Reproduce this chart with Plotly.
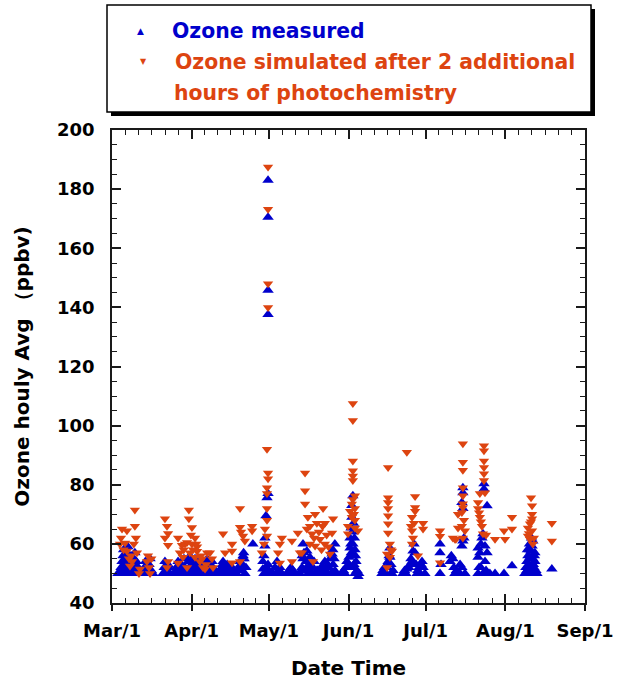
import pandas as pd
import plotly.graph_objects as go

# ---------------- data (days after Mar 1, ppbv) ----------------
measured_day = [
    2.3, 3.0, 3.5, 3.9, 4.3, 4.5, 5.0, 5.1, 5.5, 5.8, 6.2, 6.5, 7.0, 7.0, 7.4, 7.8, 8.2, 8.5, 8.9, 9.3, 9.7, 10.1, 10.5, 10.9,
    3.3, 4.0, 4.8, 6.0, 6.8, 7.6, 8.0, 9.0, 9.5,
    12.1, 12.6, 13.0, 13.6, 14.0, 14.4, 14.8, 15.3, 15.9,
    19.8, 20.3, 20.6, 21.0, 21.4, 21.8, 22.2, 22.6,
    24.5, 25.0, 25.7, 26.0, 26.4, 27.0, 27.6, 28.0, 28.4, 29.2, 29.6, 30.3, 30.7, 31.1, 31.5, 32.3, 32.7, 33.1, 33.5, 34.2,
    34.6, 35.4, 35.8, 36.2, 37.0, 37.4, 38.1, 38.9, 39.3, 40.1,
    24.8, 25.4, 26.7, 28.8, 30.0, 30.5, 31.8, 32.0, 33.8, 35.0, 36.6, 37.8, 38.5, 39.7,
    42.0, 42.6, 43.2, 43.6, 44.0, 44.8, 45.5, 45.9, 46.7, 47.5, 48.5, 49.4, 49.8, 50.2, 50.6, 51.0, 51.4, 51.7, 52.1, 54.8,
    42.3, 43.0, 44.4, 46.3, 49.0, 50.0, 50.8, 51.2,
    60.7, 60.7, 60.7, 60.7, 60.7, 60.3, 59.9, 59.5, 59.5, 59.1, 58.7, 58.7, 59.1, 59.9, 60.3, 60.7, 61.1, 61.5,
    62.6, 63.4, 64.2, 64.6, 65.0, 65.3, 66.1,
    68.1, 68.8, 69.6, 70.0, 70.4, 71.2,
    73.1, 73.9, 74.3, 74.3, 74.7, 75.1, 75.8, 76.2, 76.6, 77.0, 77.4, 77.8, 78.2, 78.6, 79.0, 79.7, 80.5, 81.3, 81.7, 82.1,
    82.8, 83.2, 83.6, 84.4, 84.8, 85.2, 85.6, 86.0, 86.7, 86.7, 87.1,
    73.5, 74.0, 75.5, 76.0, 76.8, 80.0, 83.9, 85.9, 86.4,
    89.5, 90.0, 90.6, 91.0, 91.4, 91.8, 92.2, 92.6, 92.6, 93.0, 93.3, 93.3, 93.7, 93.7, 93.7, 94.1, 94.5, 94.5, 94.9, 95.3, 95.7, 96.0,
    92.0, 92.9, 93.1, 93.5, 93.9, 94.3, 94.7, 93.5, 95.0,
    105.0, 105.4, 106.0, 106.6, 107.0, 107.4, 107.8, 108.1, 108.1, 108.5, 108.9, 109.3,
    113.2, 113.8, 114.3, 114.7, 115.5, 115.9, 116.3, 116.7, 117.1, 117.5, 117.9, 118.3, 118.7, 119.0, 119.4, 119.8, 120.2, 120.6, 121.0, 121.7,
    127.6, 127.6, 127.6, 128.0, 131.5, 132.0, 132.6, 133.0, 133.4, 134.0, 134.6, 135.4, 135.4, 136.1, 137.3,
    136.5, 136.5, 136.1, 136.5, 136.5, 136.1, 136.9,
    142.4, 142.4, 142.8, 142.4, 143.1, 143.5, 143.9, 144.3, 144.7, 144.7, 145.1, 145.1, 145.5, 145.9, 145.9, 146.3, 144.3, 143.5, 147.0,
    149.0, 152.5, 155.6,
    160.6, 161.0, 161.4, 161.4, 161.8, 161.8, 162.2, 162.6, 162.6, 162.6, 163.0, 163.0, 163.4, 163.4, 163.7, 163.7, 164.1, 164.1, 164.5, 164.5, 164.9, 165.3,
    161.6, 162.4, 163.2, 164.3, 162.0, 163.9,
    171.1,
]
measured_ppbv = [
    50, 50, 52, 54, 56, 58, 50, 53, 55, 57, 59, 51, 50, 54, 56, 52, 50, 55, 57, 53, 50, 52, 50, 51,
    51, 50, 52, 53, 55, 50, 53, 51, 54,
    50, 52, 54, 51, 50, 53, 55, 51, 50,
    50, 52, 54, 51, 50, 53, 52, 50,
    50, 52, 54, 50, 51, 53, 50, 55, 52, 50, 54, 56, 51, 53, 50, 55, 52, 50, 54, 51,
    50, 53, 50, 52, 55, 50, 51, 54, 52, 50,
    51, 50, 52, 51, 52, 54, 51, 53, 52, 51, 54, 53, 50, 51,
    50, 52, 54, 51, 50, 53, 50, 51, 52, 50, 50, 52, 54, 51, 53, 56, 55, 50, 52, 60,
    51, 53, 52, 50, 51, 53, 55, 57,
    183, 170.5, 145.8, 137.6, 77, 75.6, 69.5, 59.3, 62, 56, 54, 51.5, 50, 52, 50, 53, 51, 50,
    50, 52, 54, 51, 50, 52, 50,
    50, 51, 52, 50, 51, 50,
    50, 52, 60, 55, 57, 51, 57.6, 50, 53, 55.5, 52, 50, 52, 54, 50, 51, 50, 52, 50, 52,
    54, 51, 50, 52, 55, 50, 56.6, 53, 60, 51, 50,
    51, 56, 54, 52, 51, 51, 53, 58, 55,
    50, 51, 50, 52, 54, 52, 55.5, 58.6, 62, 65.4, 69, 73, 76.3, 60, 56, 53, 50, 58, 54, 51, 49, 50,
    53, 60, 57, 64, 67, 62, 56, 52, 50,
    50, 51, 52, 50, 52, 54, 56, 58.6, 55.5, 53, 50, 51,
    50, 51, 50, 51.5, 52, 53, 55, 54, 57.6, 60, 57, 53, 50, 51, 52, 50, 53, 54, 52, 50,
    50, 57, 60, 53, 54, 56, 55, 52, 50, 51, 50, 53, 50, 52, 50,
    79, 77.3, 74, 72, 61, 59.3, 62,
    58.6, 55.5, 52, 50, 57, 60, 62, 63.4, 80.3, 78.6, 59.3, 54, 51, 72.9, 57, 50, 50, 52, 50,
    50, 50, 52.6,
    50, 52, 54, 51, 56, 50, 53, 55.5, 58, 51, 57.6, 50, 53, 59.3, 61, 55, 52, 50, 57, 54, 51, 50,
    58, 60, 62, 56, 52, 53,
    51.5,
]

simulated_day = [
    3.1, 3.5, 3.9, 4.5, 5.1, 5.8, 5.8, 6.6, 7.0, 7.4, 7.8, 8.5, 8.9, 8.9, 9.3, 9.7, 10.5, 10.9,
    13.6, 14.0, 14.4, 14.8, 15.3,
    20.6, 21.4, 21.8, 20.6, 21.8, 21.8, 21.4,
    25.7, 26.4, 27.2, 27.6, 25.7, 28.4, 29.2, 29.2, 29.9, 29.9, 30.3, 31.1, 31.1, 31.5, 32.3, 32.3, 33.1, 33.1, 34.2, 34.6,
    35.4, 36.2, 36.6, 37.0, 38.1, 38.9, 39.3, 30.7, 27.9, 32.7, 35.0,
    43.2, 44.0, 46.7, 46.7, 46.7, 49.8, 49.8, 50.2, 51.0, 51.7, 49.8, 54.5, 54.5,
    60.7, 60.7, 60.7, 60.7, 60.3, 60.7, 60.7, 60.3, 60.3, 60.3, 60.3, 59.5, 60.3, 58.3, 59.1,
    66.1, 65.3, 64.6, 65.3,
    70.0, 70.0, 73.1, 72.3,
    75.1, 75.1, 75.1, 76.2, 77.0, 75.8, 77.8, 73.9, 79.0, 79.7, 82.1, 82.8, 79.0, 80.9, 86.0, 85.6, 84.8, 82.8, 78.2, 80.5,
    83.5, 81.5, 77.0, 78.6, 81.9, 84.2,
    93.7, 93.7, 93.7, 93.7, 93.7, 93.7, 94.5, 93.3, 94.5, 93.3, 94.5, 91.8, 95.7, 91.8, 94.5, 93.7, 94.1, 92.6,
    107.4, 107.4, 107.4, 107.4, 107.4, 107.4, 107.4, 108.1, 108.9, 107.0, 107.0, 108.1, 108.5,
    114.7, 117.9, 117.9, 117.9, 116.7, 116.7, 117.1, 116.7, 119.0, 121.0, 121.0, 117.5, 116.3,
    127.6, 127.6, 127.6, 133.4, 133.8, 134.6, 136.1, 137.3, 134.6, 132.6,
    136.5, 136.5, 136.5, 136.5, 136.5, 136.5, 136.5, 136.1, 136.9, 136.5,
    144.7, 144.7, 144.7, 144.7, 144.7, 144.7, 145.1, 143.1, 142.4, 142.4, 143.1, 143.9, 144.3, 145.5, 143.5, 142.8,
    149.0, 152.5, 152.9, 155.6, 155.6,
    163.0, 163.4, 163.4, 163.4, 162.6, 161.8, 163.4, 161.8, 162.6, 163.7, 162.2, 163.0, 164.1,
    171.1, 171.1,
]
simulated_ppbv = [
    60, 62, 65, 58, 60.3, 64.4, 57.6, 55, 52.5, 56, 54, 60, 66, 71.5, 62, 57, 50, 51.5,
    54, 56, 52, 50, 55,
    68.5, 66, 63.5, 62, 59.5, 54, 52,
    62, 57, 59.5, 55.5, 53.5, 60, 60.5, 52, 71.5, 68.5, 57, 65.5, 60, 58, 62, 55.5, 59, 57.5, 54, 56,
    52, 51.5, 53, 57, 57, 55, 52, 63, 58, 60, 55,
    63.4, 57, 60, 57.6, 53.6, 72, 65.6, 64, 62.7, 61, 54, 66, 64.4,
    187.5, 173.2, 148, 140, 92, 84, 82, 79, 77, 72, 68, 65, 62.7, 57, 60,
    62, 60, 57, 53.5,
    61, 54, 57, 63.7,
    84, 78, 73.5, 69, 66, 65, 63.4, 57, 70, 67, 72, 67, 59.3, 61.6, 68.5, 63.7, 56.6, 60, 54, 64,
    63, 58, 60, 62, 66, 59,
    107.5, 101.7, 88, 84.7, 83, 81.4, 76.3, 73.5, 72, 69, 68, 66, 64.4, 63.4, 65.4, 75, 70, 71,
    85.8, 75.6, 74, 72, 69.5, 66.8, 63.7, 60, 57.6, 56.6, 52, 55.5, 58,
    91, 76, 72.3, 71, 69, 64.4, 62, 60, 56, 67, 65, 67, 66,
    64.4, 62.6, 53.6, 61.6, 61.6, 65.4, 66, 64.4, 70, 62,
    93.9, 87.6, 84.9, 79, 76.3, 73.6, 72.3, 70.6, 68, 62,
    93.2, 91.5, 88, 85.8, 83.7, 81.4, 77.3, 77, 74, 72, 69, 66, 63.4, 63, 67.5, 70.5,
    61.6, 64.4, 61.6, 69, 65,
    75.6, 72.9, 70, 68.5, 66.8, 65.4, 64.4, 62.7, 61.6, 60, 63.5, 67.5, 62,
    67, 61,
]

month_starts = ["2008-03-01", "2008-04-01", "2008-05-01", "2008-06-01", "2008-07-01", "2008-08-01", "2008-09-01"]
month_labels = ["Mar/1", "Apr/1", "May/1", "Jun/1", "Jul/1", "Aug/1", "Sep/1"]

# ---------------- helpers ----------------
BASE = pd.Timestamp("2008-03-01")
m_x = BASE + pd.to_timedelta(measured_day, unit="D")
s_x = BASE + pd.to_timedelta(simulated_day, unit="D")

ms = pd.to_datetime(month_starts)
minor_vals = []
for a, b in zip(ms[:-1], ms[1:]):
    for k in range(1, 6):
        minor_vals.append(a + (b - a) * k / 6)

BLUE = "#0000CC"
ORANGE = "#DD4410"
FONT = "DejaVu Sans"
AX = "#1a1a1a"

W, H = 619, 682
L, R, T, B = 112, 34, 130, 79
PW, PH = W - L - R, H - T - B


def px(x):
    return (x - L) / PW


def py(y):
    return (H - B - y) / PH


fig = go.Figure()
fig.add_trace(go.Scatter(
    x=m_x, y=measured_ppbv, mode="markers", name="Ozone measured",
    marker=dict(symbol="triangle-up", size=10, color=BLUE, line=dict(width=0)),
    showlegend=False, xaxis="x", yaxis="y",
))
fig.add_trace(go.Scatter(
    x=s_x, y=simulated_ppbv, mode="markers",
    name="Ozone simulated after 2 additional hours of photochemistry",
    marker=dict(symbol="triangle-down", size=9, color=ORANGE, line=dict(width=0)),
    showlegend=False, xaxis="x2", yaxis="y",
))

xrange = [month_starts[0], month_starts[-1]]
tickfont = dict(family=FONT, size=18, color="black", weight="bold")

fig.update_layout(
    width=W, height=H,
    margin=dict(l=L, r=R, t=T, b=B, autoexpand=False),
    paper_bgcolor="white", plot_bgcolor="white",
    showlegend=False,
    xaxis=dict(
        type="date", range=xrange, tickmode="array", tickvals=month_starts, ticktext=month_labels,
        ticks="outside", ticklen=6, tickwidth=1.5, tickcolor=AX, automargin=False,
        showline=True, linecolor=AX, linewidth=1.5, mirror=False, showgrid=False, zeroline=False,
        tickfont=tickfont, ticklabelstandoff=5,
        title=dict(text="Date Time", font=dict(family=FONT, size=20, color="black", weight="bold"), standoff=21),
    ),
    xaxis2=dict(
        type="date", range=xrange, overlaying="x", anchor="y", side="bottom",
        tickmode="array", tickvals=month_starts, showticklabels=False,
        ticks="inside", ticklen=9, tickwidth=1.5, tickcolor=AX,
        minor=dict(tickmode="array", tickvals=minor_vals, ticks="inside", ticklen=5, tickwidth=1, tickcolor=AX),
        showline=True, linecolor=AX, linewidth=1.5, mirror="ticks", showgrid=False, zeroline=False,
    ),
    yaxis=dict(
        range=[40, 200], tickmode="linear", tick0=40, dtick=20,
        ticks="inside", ticklen=9, tickwidth=1.5, tickcolor=AX, automargin=False,
        minor=dict(dtick=5, ticks="inside", ticklen=5, tickwidth=1, tickcolor=AX),
        showline=True, linecolor=AX, linewidth=1.5, mirror="ticks", showgrid=False, zeroline=False,
        tickfont=tickfont, ticklabelstandoff=12,
        title=dict(text="Ozone houly Avg （ppbv)", font=dict(family=FONT, size=20, color="black", weight="bold"), standoff=22),
    ),
)

# legend box with drop shadow
fig.add_shape(type="rect", xref="paper", yref="paper",
              x0=px(111), x1=px(595), y0=py(116), y1=py(9),
              fillcolor="black", line=dict(width=0), layer="above")
fig.add_shape(type="rect", xref="paper", yref="paper",
              x0=px(107), x1=px(591), y0=py(112), y1=py(5),
              fillcolor="white", line=dict(color="black", width=1.5), layer="above")

legend_items = [
    ("▲", 140, 31, BLUE, 9),
    ("▼", 143, 62, ORANGE, 8),
]
for sym, x, y, c, s in legend_items:
    fig.add_annotation(text=sym, x=px(x), y=py(y), xref="paper", yref="paper",
                       xanchor="center", yanchor="middle", showarrow=False,
                       font=dict(family=FONT, size=s, color=c))

legend_texts = [
    ("Ozone measured", 170, 31, BLUE),
    ("Ozone simulated after 2 additional", 173, 62, ORANGE),
    ("hours of photochemistry", 172, 93, ORANGE),
]
for t, x, y, c in legend_texts:
    fig.add_annotation(text=t, x=px(x), y=py(y), xref="paper", yref="paper",
                       xanchor="left", yanchor="middle", showarrow=False,
                       font=dict(family=FONT, size=20.4, color=c, weight="bold"))

fig.write_html("out.html")
